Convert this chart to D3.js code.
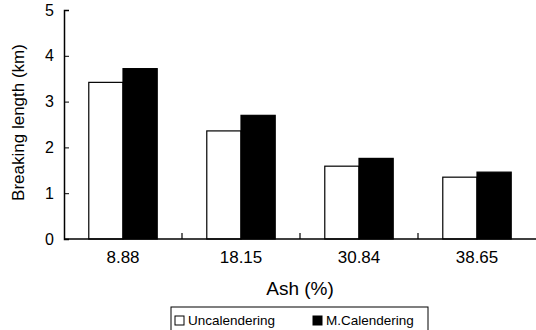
<!DOCTYPE html>
<html>
<head>
<meta charset="utf-8">
<script src="https://cdn.jsdelivr.net/npm/d3@7"></script>
<style>
  body { margin: 0; background: #fff; overflow: hidden; }
  svg { display: block; }
  text { font-family: "Liberation Sans", Arial, sans-serif; fill: #000; }
</style>
</head>
<body>
<svg width="536" height="330"></svg>
<script>
// values
const ashLevels = ['8.88', '18.15', '30.84', '38.65'];
const seriesNames = ['Uncalendering', 'M.Calendering'];
const uncalendering = [3.42, 2.36, 1.59, 1.35];
const mCalendering = [3.72, 2.70, 1.76, 1.46];
const yTicks = [0, 1, 2, 3, 4, 5];

const svg = d3.select('svg');
const margin = {top: 10, right: 0, bottom: 91, left: 64};
const width = +svg.attr('width');
const height = +svg.attr('height');
const innerWidth = width - margin.left - margin.right;
const innerHeight = height - margin.top - margin.bottom;

const data = ashLevels.map((a, i) => ({ash: a, values: [uncalendering[i], mCalendering[i]]}));

const xScale = d3.scaleBand()
  .domain(ashLevels)
  .range([0, innerWidth])
  .padding(0);

const bw = xScale.bandwidth();
const x1 = d3.scaleBand()
  .domain(seriesNames)
  .range([bw * 0.21, bw * 0.79]);

const yScale = d3.scaleLinear()
  .domain([0, 5])
  .range([innerHeight, 0]);

const g = svg.append('g')
  .attr('transform', `translate(${margin.left}, ${margin.top})`);

// bars
const groups = g.selectAll('.grp').data(data)
  .enter().append('g')
  .attr('transform', d => `translate(${xScale(d.ash)}, 0)`);

groups.selectAll('rect').data(d => d.values.map((v, j) => ({name: seriesNames[j], v})))
  .enter().append('rect')
  .attr('x', d => x1(d.name))
  .attr('y', d => yScale(d.v))
  .attr('width', x1.bandwidth())
  .attr('height', d => innerHeight - yScale(d.v))
  .attr('fill', d => d.name === 'Uncalendering' ? '#fff' : '#000')
  .attr('stroke', '#000')
  .attr('stroke-width', 1.2);

// y axis, ticks pointing inward
const yAxis = d3.axisLeft(yScale).tickValues(yTicks).tickFormat(d3.format('d')).tickSize(-5).tickPadding(10);
const yg = g.append('g').call(yAxis).attr('font-size', 16);
yg.select('.domain').attr('stroke-width', 1.5);

// x axis: boundary ticks pointing up, labels centered in bands
const xg = g.append('g').attr('transform', `translate(0, ${innerHeight})`);
xg.append('line')
  .attr('x1', 0).attr('x2', innerWidth)
  .attr('stroke', '#000').attr('stroke-width', 1.5);
xg.selectAll('.tk').data(ashLevels.slice(1))
  .enter().append('line')
  .attr('x1', d => xScale(d)).attr('x2', d => xScale(d))
  .attr('y1', 0).attr('y2', -6)
  .attr('stroke', '#000').attr('stroke-width', 1.2);
xg.selectAll('.lbl').data(ashLevels)
  .enter().append('text')
  .attr('x', d => xScale(d) + bw / 2)
  .attr('y', 24)
  .attr('text-anchor', 'middle')
  .attr('font-size', 17)
  .text(d => d);

// axis titles
svg.append('text')
  .attr('text-anchor', 'middle')
  .attr('x', margin.left + innerWidth / 2)
  .attr('y', 295)
  .attr('font-size', 19)
  .text('Ash (%)');

svg.append('text')
  .attr('text-anchor', 'middle')
  .attr('transform', `translate(24, ${margin.top + innerHeight / 2 - 2}) rotate(-90)`)
  .attr('font-size', 17)
  .text('Breaking length (km)');

// legend
const lg = svg.append('g').attr('transform', 'translate(171, 307)');
lg.append('rect')
  .attr('width', 257).attr('height', 30)
  .attr('fill', 'none').attr('stroke', '#000').attr('stroke-width', 1);
const items = lg.selectAll('.item').data(seriesNames)
  .enter().append('g')
  .attr('transform', (d, i) => `translate(${i === 0 ? 4 : 142}, 0)`);
items.append('rect')
  .attr('y', 9).attr('width', 9).attr('height', 9)
  .attr('fill', (d, i) => i === 0 ? '#fff' : '#000')
  .attr('stroke', '#000').attr('stroke-width', 1);
items.append('text')
  .attr('x', 13).attr('y', 18)
  .attr('font-size', 13.5)
  .text(d => d);
</script>
</body>
</html>
